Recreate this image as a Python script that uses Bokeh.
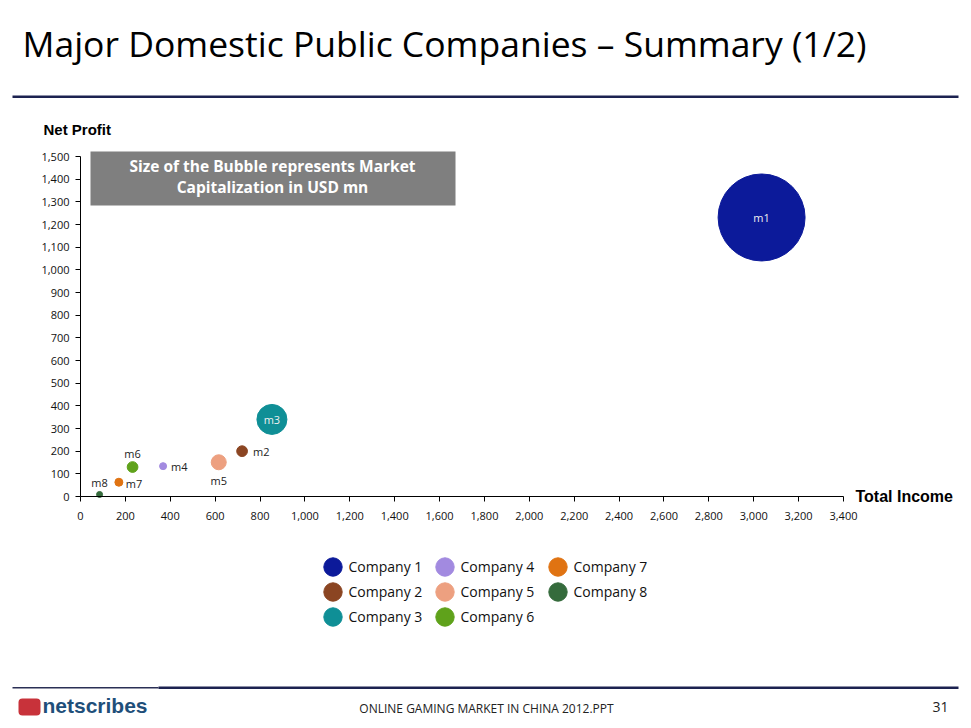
from bokeh.plotting import figure
from bokeh.models import (ColumnDataSource, Range1d, FixedTicker, NumeralTickFormatter,
                          Label, BoxAnnotation, Legend, LegendItem)
from bokeh.core.properties import value
from bokeh.embed import file_html
from bokeh.resources import INLINE

# ---------------- data ----------------
companies = ["Company 1", "Company 2", "Company 3", "Company 4",
             "Company 5", "Company 6", "Company 7", "Company 8"]
bubble_labels = ["m1", "m2", "m3", "m4", "m5", "m6", "m7", "m8"]
total_income = [3035, 720, 853, 368, 616, 232, 171, 85]
net_profit = [1231, 200, 340, 134, 151, 130, 63, 9]
market_cap = [42000, 640, 5000, 272, 1250, 640, 355, 200]
x_ticks = [0, 200, 400, 600, 800, 1000, 1200, 1400, 1600, 1800, 2000,
           2200, 2400, 2600, 2800, 3000, 3200, 3400]
y_ticks = [0, 100, 200, 300, 400, 500, 600, 700, 800, 900, 1000,
           1100, 1200, 1300, 1400, 1500]

# ---------------- style / layout ----------------
W, H = 971, 728
plot_left, plot_right, plot_top, plot_bottom = 80, 843, 156, 496   # pixel box of the axes
colors = ["#0c1a9a", "#8b4522", "#0f8f96", "#a28ae0",
          "#eda080", "#5fa21b", "#e07312", "#356b3c"]
max_diameter = 87
label_dx = [0, 11, 0, 8, 0, 0, 7, 0]
label_dy = [0, 0, 0, 0, 18, -14, 1, -12]
label_align = ["center", "left", "center", "left", "center", "center", "left", "center"]
label_color = ["#f0f0f0", "#222222", "#f0f0f0", "#222222",
               "#222222", "#222222", "#222222", "#222222"]

cap_max = max(market_cap)
sizes = [max_diameter * (c / cap_max) ** 0.5 for c in market_cap]

x0, x1 = x_ticks[0], x_ticks[-1]
y0, y1 = y_ticks[0], y_ticks[-1]
kx = (plot_right - plot_left) / (x1 - x0)
ky = (plot_bottom - plot_top) / (y1 - y0)
x_range = Range1d(x0 - plot_left / kx, x1 + (W - plot_right) / kx)
y_range = Range1d(y0 - (H - plot_bottom) / ky, y1 + plot_top / ky)

src = ColumnDataSource(dict(
    x=total_income, y=net_profit, size=sizes, color=colors, name=companies,
    label=bubble_labels, dx=label_dx, dy=label_dy, align=label_align, tc=label_color))

p = figure(width=W, height=H, output_backend="svg", toolbar_location=None,
           x_range=x_range, y_range=y_range, min_border=0)
p.outline_line_color = None
p.xgrid.visible = False
p.ygrid.visible = False
p.background_fill_color = "white"
p.border_fill_color = "white"

for ax, ticks in ((p.xaxis[0], x_ticks), (p.yaxis[0], y_ticks)):
    ax.ticker = FixedTicker(ticks=ticks)
    ax.formatter = NumeralTickFormatter(format="0,0")
    ax.fixed_location = 0
    ax.bounds = (ticks[0], ticks[-1])
    ax.axis_line_color = "black"
    ax.major_tick_line_color = "black"
    ax.major_tick_out = 5
    ax.major_tick_in = 0
    ax.minor_tick_line_color = None
    ax.major_label_text_font = "Open Sans"
    ax.major_label_text_font_size = "11px"
    ax.major_label_text_color = "#111111"
p.yaxis.major_label_standoff = 6
p.xaxis.major_label_standoff = 10

r = p.ellipse(x="x", y="y", width="size", height="size", width_units="screen",
              height_units="screen", fill_color="color", line_color="color", source=src)
p.text(x="x", y="y", text="label", x_offset="dx", y_offset="dy",
       text_align="align", text_baseline="middle", text_color="tc",
       text_font=value("Open Sans"), text_font_size="11px", source=src)

# legends (three columns); location = (left, bottom) in screen px from frame bottom-left
cols = [[0, 1, 2], [3, 4, 5], [6, 7]]
leg_x = [320.5, 432.5, 545.5]
leg_y = [100.5, 100.5, 125.5]
for j, idxs in enumerate(cols):
    items = [LegendItem(label=companies[i], renderers=[r], index=i) for i in idxs]
    lg = Legend(items=items, location=(leg_x[j], leg_y[j]), orientation="vertical",
                glyph_width=23, glyph_height=23, spacing=2, label_standoff=5,
                padding=0, margin=0, border_line_color=None, background_fill_alpha=0,
                label_text_font="Open Sans", label_text_font_size="14px",
                label_text_color="#111111", label_height=23)
    p.add_layout(lg, "center")

def box(l, r_, top_px, bottom_px, color, radius=0):
    p.add_layout(BoxAnnotation(left=l, right=r_, bottom=H - bottom_px, top=H - top_px,
                               left_units="screen", right_units="screen",
                               bottom_units="screen", top_units="screen",
                               fill_color=color, fill_alpha=1, line_color=None,
                               border_radius=radius))

box(12, 958, 95, 97.5, "#1c2250")     # header rule
box(90, 455, 151, 205, "#7f7f7f")     # note box
box(158, 958, 686, 688.5, "#1c2250")  # footer rule
box(12, 158, 686.5, 688, "#2a2f55")
box(18, 40, 698, 715, "#c8323a", 4)   # logo mark

def label(x, baseline_px, text, font, size_px, color="#000000", style="normal",
          align="left"):
    y = H - (baseline_px - 0.4 * size_px)
    p.add_layout(Label(x=x, y=y, x_units="screen", y_units="screen", text=text,
                       text_font=font, text_font_size=f"{size_px}px", text_color=color,
                       text_font_style=style, text_align=align,
                       text_baseline="alphabetic"))

label(22, 57, "Major Domestic Public Companies \u2013 Summary (1/2)", "Open Sans", 35.5)
label(43, 135, "Net Profit", "Liberation Sans", 15, style="bold")
label(855, 502, "Total Income", "Liberation Sans", 16, style="bold")
label(272, 172, "Size of the Bubble represents Market", "Open Sans", 15.5,
      color="white", style="bold", align="center")
label(272, 193, "Capitalization in USD mn", "Open Sans", 15.5,
      color="white", style="bold", align="center")
label(486, 713, "ONLINE GAMING MARKET IN CHINA 2012.PPT", "Open Sans", 12,
      color="#222222", align="center")
label(932, 712, "31", "Open Sans", 14, color="#222222")
label(42, 713, "netscribes", "Liberation Sans", 21, color="#1f4f7a", style="bold")

open("out.html", "w").write(file_html(p, INLINE))
